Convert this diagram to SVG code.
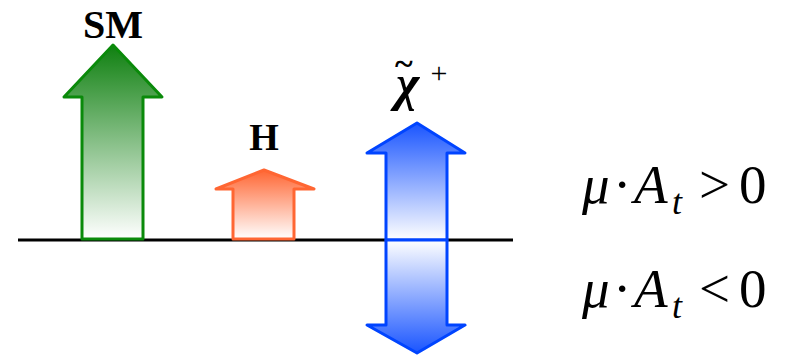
<svg xmlns="http://www.w3.org/2000/svg" width="786" height="355" viewBox="0 0 786 355">
<defs>
<linearGradient id="gSM" x1="0" y1="0" x2="0" y2="1"><stop offset="0" stop-color="#0f8010"/><stop offset="1" stop-color="#ffffff"/></linearGradient>
<linearGradient id="gH" x1="0" y1="0" x2="0" y2="1"><stop offset="0" stop-color="#ff6633"/><stop offset="1" stop-color="#ffffff"/></linearGradient>
<linearGradient id="gUp" x1="0" y1="0" x2="0" y2="1"><stop offset="0" stop-color="#1a55ff"/><stop offset="1" stop-color="#ffffff"/></linearGradient>
<linearGradient id="gDn" x1="0" y1="0" x2="0" y2="1"><stop offset="0" stop-color="#ffffff"/><stop offset="1" stop-color="#1a55ff"/></linearGradient>
<style>
.lbl{font-family:"Liberation Serif",serif;font-weight:bold;fill:#000}
.eq{font-family:"Liberation Serif",serif;font-size:55px;fill:#000}
.it{font-style:italic}
.sub{font-style:italic;font-size:36px}
</style>
</defs>
<g id="axis"><line x1="18" y1="240" x2="513" y2="240" stroke="#000" stroke-width="3"/></g>
<g id="SM">
<path d="M82,239 L82,97 L64,97 L113,45 L162,97 L143,97 L143,239 Z" fill="url(#gSM)" stroke="#0a8a0a" stroke-width="3" stroke-linejoin="round"/>
<text class="lbl" x="113" y="38" font-size="40" text-anchor="middle">SM</text>
</g>
<g id="H">
<path d="M233,239 L233,189 L216,189 L264,170 L314,189 L294,189 L294,239 Z" fill="url(#gH)" stroke="#ff6633" stroke-width="3" stroke-linejoin="round"/>
<text class="lbl" x="264" y="150" font-size="38" text-anchor="middle">H</text>
</g>
<g id="chargino">
<path d="M386,240 L386,153 L367,153 L417,123 L465,153 L447,153 L447,240 Z" fill="url(#gUp)" stroke="#0044ff" stroke-width="3" stroke-linejoin="round"/>
<path d="M386,240 L386,325 L367,325 L417,353 L465,325 L447,325 L447,240 Z" fill="url(#gDn)" stroke="#0044ff" stroke-width="3" stroke-linejoin="round"/>
<text class="lbl"><tspan class="it" x="396" y="100" font-size="50">χ</tspan><tspan x="395" y="75" font-size="34">~</tspan></text>
<text x="439" y="83" font-family="Liberation Serif,serif" font-size="30" text-anchor="middle">+</text>
</g>
<g id="eq1">
<text class="eq" y="203"><tspan class="it" x="582">μ</tspan><tspan x="613">·</tspan><tspan class="it" x="634">A</tspan><tspan class="sub" x="672" dy="11">t</tspan><tspan x="699" dy="-11">&gt;</tspan><tspan x="739">0</tspan></text>
</g>
<g id="eq2">
<text class="eq" y="307"><tspan class="it" x="582">μ</tspan><tspan x="613">·</tspan><tspan class="it" x="634">A</tspan><tspan class="sub" x="672" dy="11">t</tspan><tspan x="699" dy="-11">&lt;</tspan><tspan x="739">0</tspan></text>
</g>
</svg>
